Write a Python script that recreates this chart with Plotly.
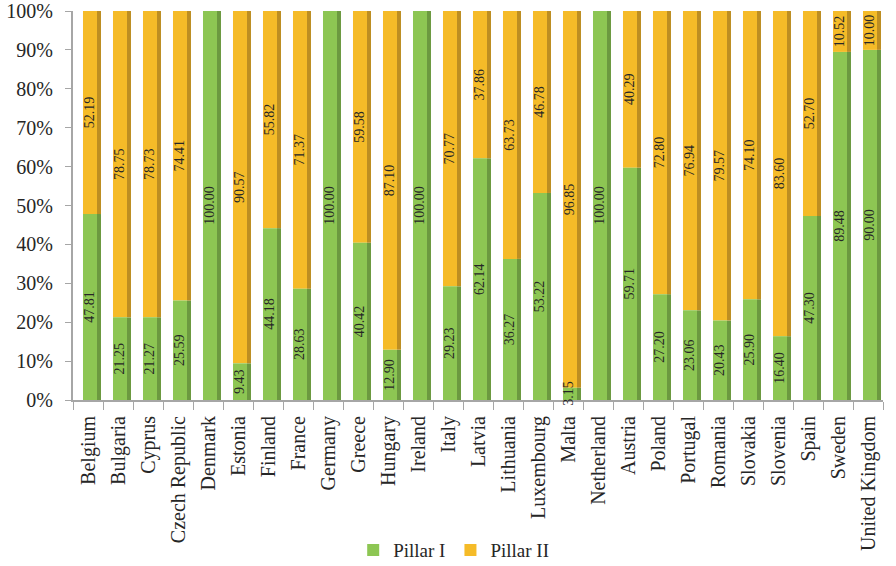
import plotly.graph_objects as go

countries = ["Belgium", "Bulgaria", "Cyprus", "Czech Republic", "Denmark", "Estonia", "Finland",
             "France", "Germany", "Greece", "Hungary", "Ireland", "Italy", "Latvia", "Lithuania",
             "Luxembourg", "Malta", "Netherland", "Austria", "Poland", "Portugal", "Romania",
             "Slovakia", "Slovenia", "Spain", "Sweden", "United Kingdom"]
pillar1 = [47.81, 21.25, 21.27, 25.59, 100.00, 9.43, 44.18, 28.63, 100.00, 40.42, 12.90, 100.00,
           29.23, 62.14, 36.27, 53.22, 3.15, 100.00, 59.71, 27.20, 23.06, 20.43, 25.90, 16.40,
           47.30, 89.48, 90.00]
pillar2 = [52.19, 78.75, 78.73, 74.41, 0.0, 90.57, 55.82, 71.37, 0.0, 59.58, 87.10, 0.0,
           70.77, 37.86, 63.73, 46.78, 96.85, 0.0, 40.29, 72.80, 76.94, 79.57, 74.10, 83.60,
           52.70, 10.52, 10.00]

# normalise to 100%
tot = [a + b for a, b in zip(pillar1, pillar2)]
p1n = [a / t * 100 for a, t in zip(pillar1, tot)]
p2n = [b / t * 100 for b, t in zip(pillar2, tot)]

GREEN = "#8DC653"
ORANGE = "#F5BB28"
GREEN_SIDE = "#6C9940"
ORANGE_SIDE = "#BD8E22"
FONT = "Liberation Serif, Times New Roman, serif"
TXT = "#262626"
SMALL = 5  # segments smaller than this get their label as an annotation (overflowing)

fig = go.Figure()
W, OFF, SW = 0.467, -0.167, 0.133

# side faces (3D look)
fig.add_trace(go.Bar(x=countries, y=p1n, base=[0]*len(countries), width=SW, offset=OFF + W,
                     marker=dict(color=GREEN_SIDE, line=dict(width=0)), showlegend=False,
                     hoverinfo="skip"))
fig.add_trace(go.Bar(x=countries, y=p2n, base=p1n, width=SW, offset=OFF + W,
                     marker=dict(color=ORANGE_SIDE, line=dict(width=0)), showlegend=False,
                     hoverinfo="skip"))

fig.add_trace(go.Bar(name="Pillar II", x=countries, y=p2n, base=p1n, legendrank=2,
                     width=W, offset=OFF,
                     marker=dict(color=ORANGE, line=dict(width=0)),
                     text=[f"{v:.2f}" if v > 0 else "" for v in pillar2], textposition="inside",
                     insidetextanchor="middle", textangle=-90,
                     textfont=dict(family=FONT, size=14, color=TXT)))
fig.add_trace(go.Bar(name="Pillar I", x=countries, y=p1n, base=[0]*len(countries), legendrank=1,
                     width=W, offset=OFF,
                     marker=dict(color=GREEN, line=dict(width=0)),
                     text=[f"{v:.2f}" if v >= SMALL else "" for v in pillar1],
                     textposition="inside",
                     insidetextanchor="middle", textangle=-90,
                     textfont=dict(family=FONT, size=14, color=TXT)))

# overflowing labels for tiny segments
for c, v, vn in zip(countries, pillar1, p1n):
    if 0 < v < SMALL:
        fig.add_annotation(x=c, y=vn / 2, text=f"{v:.2f}", textangle=-90, showarrow=False,
                           xshift=1, font=dict(family=FONT, size=14, color=TXT))

fig.update_layout(
    width=896, height=566,
    barmode="overlay",
    plot_bgcolor="white", paper_bgcolor="white",
    margin=dict(l=73, r=13, t=11, b=166, autoexpand=False),
    font=dict(family=FONT, size=20, color=TXT),
    uniformtext=dict(minsize=14, mode="show"),
    legend=dict(orientation="h", x=0.47, xanchor="center", y=-0.386, yanchor="middle",
                font=dict(family=FONT, size=19, color=TXT),
                traceorder="normal", itemwidth=30),
    xaxis=dict(categoryorder="array", categoryarray=countries, tickangle=-90,
               ticks="outside", tickson="boundaries", ticklen=8, tickcolor="#A6A6A6",
               showline=True, linecolor="#A6A6A6", linewidth=2, showgrid=False,
               automargin=False, ticklabelstandoff=6,
               tickfont=dict(family=FONT, size=20, color=TXT)),
    yaxis=dict(range=[0, 100], dtick=10, ticksuffix="%", ticks="outside", ticklen=6,
               tickcolor="#A6A6A6", showline=True, linecolor="#A6A6A6", linewidth=2,
               showgrid=False, zeroline=False, automargin=False, ticklabelstandoff=8,
               ticklabeloverflow="allow",
               tickfont=dict(family=FONT, size=20, color=TXT)),
)

fig.write_html("out.html", config={"displayModeBar": False},
               post_script="document.body.style.margin='0';")
